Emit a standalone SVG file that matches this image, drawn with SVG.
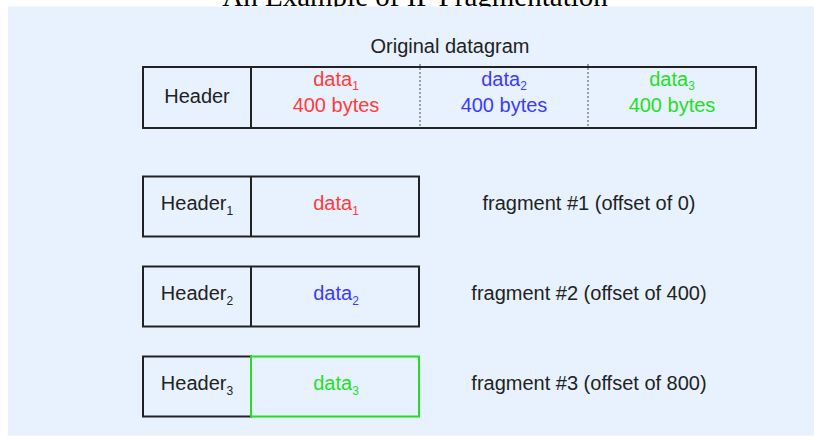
<svg xmlns="http://www.w3.org/2000/svg" width="814" height="436" viewBox="0 0 814 436">
  <style>
    .title { font-family: "Liberation Serif", "Times New Roman", serif; font-size: 29px; fill: #000; }
    .lbl { font-family: "Liberation Sans", Arial, sans-serif; font-size: 20px; fill: #222; }
    .sub { font-size: 12px; }
    .box { fill: none; stroke: #222; stroke-width: 2; }
    .red { fill: #ff3b3b; }
    .blue { fill: #3a3aff; }
    .green { fill: #1fe01f; }
    .dots { stroke: #8a8a8a; stroke-width: 1.6; stroke-dasharray: 2 2; }
  </style>

  <!-- heading, partly tucked under the panel -->
  <text class="title" x="415" y="5.5" text-anchor="middle">An Example of IP Fragmentation</text>

  <!-- background panel -->
  <rect x="8" y="6.5" width="806" height="429" fill="#e7f2fe"/>

  <!-- original datagram -->
  <g id="original">
    <text class="lbl" x="450" y="53" text-anchor="middle">Original datagram</text>
    <rect class="box" x="143" y="67" width="613" height="61"/>
    <line x1="251" y1="67" x2="251" y2="128" stroke="#222" stroke-width="2"/>
    <line class="dots" x1="420" y1="64" x2="420" y2="128"/>
    <line class="dots" x1="588" y1="64" x2="588" y2="128"/>
    <text class="lbl" x="197" y="103" text-anchor="middle">Header</text>
    <text class="lbl red" x="336" y="86" text-anchor="middle">data<tspan class="sub" dy="4">1</tspan></text>
    <text class="lbl red" x="336" y="112" text-anchor="middle">400 bytes</text>
    <text class="lbl blue" x="504" y="86" text-anchor="middle">data<tspan class="sub" dy="4">2</tspan></text>
    <text class="lbl blue" x="504" y="112" text-anchor="middle">400 bytes</text>
    <text class="lbl green" x="672" y="86" text-anchor="middle">data<tspan class="sub" dy="4">3</tspan></text>
    <text class="lbl green" x="672" y="112" text-anchor="middle">400 bytes</text>
  </g>

  <!-- fragment 1 -->
  <g id="fragment1">
    <rect class="box" x="143" y="176.5" width="276" height="60"/>
    <line x1="251" y1="176.5" x2="251" y2="236.5" stroke="#222" stroke-width="2"/>
    <text class="lbl" x="197" y="210" text-anchor="middle">Header<tspan class="sub" dy="5">1</tspan></text>
    <text class="lbl red" x="336" y="210" text-anchor="middle">data<tspan class="sub" dy="5">1</tspan></text>
    <text class="lbl" x="589" y="210" text-anchor="middle">fragment #1 (offset of 0)</text>
  </g>

  <!-- fragment 2 -->
  <g id="fragment2">
    <rect class="box" x="143" y="266.5" width="276" height="60"/>
    <line x1="251" y1="266.5" x2="251" y2="326.5" stroke="#222" stroke-width="2"/>
    <text class="lbl" x="197" y="300" text-anchor="middle">Header<tspan class="sub" dy="5">2</tspan></text>
    <text class="lbl blue" x="336" y="300" text-anchor="middle">data<tspan class="sub" dy="5">2</tspan></text>
    <text class="lbl" x="589" y="300" text-anchor="middle">fragment #2 (offset of 400)</text>
  </g>

  <!-- fragment 3: data part outlined in green -->
  <g id="fragment3">
    <rect class="box" x="143" y="356.5" width="108" height="60"/>
    <rect x="251" y="356.5" width="168" height="60" fill="none" stroke="#1fe01f" stroke-width="2"/>
    <text class="lbl" x="197" y="390" text-anchor="middle">Header<tspan class="sub" dy="5">3</tspan></text>
    <text class="lbl green" x="336" y="390" text-anchor="middle">data<tspan class="sub" dy="5">3</tspan></text>
    <text class="lbl" x="589" y="390" text-anchor="middle">fragment #3 (offset of 800)</text>
  </g>

  <g id="connectors"></g>
</svg>
